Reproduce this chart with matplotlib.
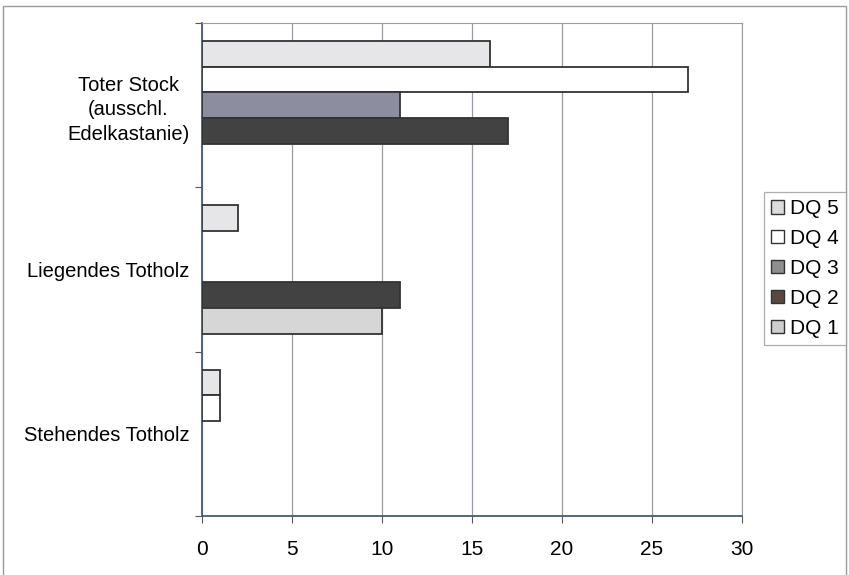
import numpy as np
import matplotlib
matplotlib.use("Agg")
import matplotlib.pyplot as plt
from matplotlib.patches import Rectangle

plt.rcParams['font.family'] = ['Liberation Sans', 'DejaVu Sans']

# categories from top to bottom
categories = ['Toter Stock\n(ausschl.\nEdelkastanie)', 'Liegendes Totholz', 'Stehendes Totholz']
series = ['DQ 5', 'DQ 4', 'DQ 3', 'DQ 2', 'DQ 1']
dq5 = [16, 2, 1]
dq4 = [27, 0, 1]
dq3 = [11, 0, 0]
dq2 = [17, 11, 0]
dq1 = [0, 10, 0]
x_ticks = [0, 5, 10, 15, 20, 25, 30]

values = [dq5, dq4, dq3, dq2, dq1]
colors = ['#e6e6e9', '#ffffff', '#8c8ea0', '#424242', '#d6d6d6']
legend_colors = ['#dcdcdc', '#ffffff', '#8e8e8e', '#5a4742', '#cfcfcf']

fig = plt.figure(figsize=(8.49, 5.75), dpi=100)
ax = fig.add_axes([202 / 849, 1 - 516 / 575, 540 / 849, 493 / 575])

n = len(series)
bar_h = 1 / (n + 1.4)
for i, (vals, col) in enumerate(zip(values, colors)):
    for j, v in enumerate(vals):
        if v <= 0:
            continue
        # group j occupies [j, j+1] with 0 at top
        y0 = j + 0.7 * bar_h + i * bar_h
        ax.barh(y0 + bar_h / 2, v, height=bar_h, color=col,
                edgecolor='#333333', linewidth=1.3, zorder=3)

ax.set_xlim(0, 30)
ax.set_ylim(3, 0)
ax.set_xticks(x_ticks)
ax.set_xticklabels([str(t) for t in x_ticks], fontsize=15)
ax.tick_params(axis='x', length=5, color='#555566', pad=12)
ax.set_yticks([0, 1, 2, 3])
ax.set_yticklabels([])
ax.tick_params(axis='y', length=5, color='#555566')
ax.set_yticks([0.5, 1.5, 2.5], minor=True)
ax.set_yticklabels(categories, minor=True, fontsize=14.5, ha='right',
                   multialignment='center', linespacing=1.36)
ax.tick_params(axis='y', which='minor', length=0, pad=9)
ax.grid(axis='x', color='#9a9aa2', linewidth=0.9, zorder=0)
for side in ['top', 'right']:
    ax.spines[side].set_color('#9a9aa2')
for side in ['left', 'bottom']:
    ax.spines[side].set_color('#4a5a70')
    ax.spines[side].set_linewidth(1.3)

# legend
handles = [Rectangle((0, 0), 1, 1, facecolor=c, edgecolor='#333333', linewidth=1.0)
           for c in legend_colors]
leg = fig.legend(handles, series, loc='upper right',
                 bbox_to_anchor=(846 / 849, 1 - 192 / 575), fontsize=15,
                 frameon=True, fancybox=False, handlelength=0.6, handleheight=0.6,
                 handletextpad=0.3, labelspacing=0.52, borderpad=0.35,
                 borderaxespad=0)
leg.get_frame().set_edgecolor('#9a9a9a')
leg.get_frame().set_linewidth(0.9)

# outer frame of the chart
fig.patches.append(Rectangle((3 / 849, -0.01), 843 / 849, 1 - 6 / 575 + 0.01,
                             transform=fig.transFigure, fill=False,
                             edgecolor='#9a9a9a', linewidth=1.0))

fig.savefig('out.png', dpi=100)
